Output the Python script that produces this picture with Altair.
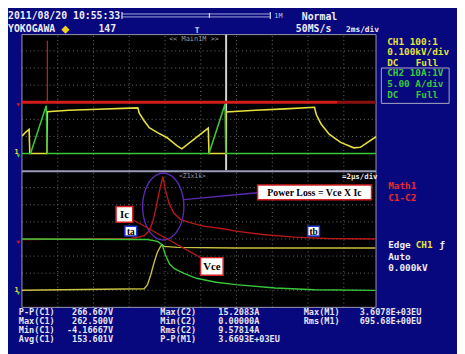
import altair as alt
import pandas as pd
import numpy as np

# ---------------- data ----------------
# Upper panel "Main 1M", 2 ms/div: time in divisions, level in divisions above the panel floor
main_ch1_t = [0.01, 0.10, 0.20, 0.22, 0.70, 0.71, 1.31, 2.14, 2.82, 3.24, 3.28, 3.42, 3.56, 3.79, 4.06,
              4.33, 4.47, 5.21, 5.23, 5.70, 5.71, 6.53, 7.36, 8.18, 8.23, 8.37, 8.59, 8.91, 9.28, 9.46, 9.90]
main_ch1_v = [2.03, 2.24, 2.41, 1.00, 1.00, 3.44, 3.53, 3.59, 3.64, 3.67, 3.36, 2.90, 2.51, 2.22, 1.92,
              1.46, 1.27, 2.48, 1.00, 1.00, 3.43, 3.53, 3.61, 3.70, 3.28, 2.71, 2.13, 1.65, 1.33, 1.36, 1.98]
main_ch2_t = [0.0, 0.24, 0.68, 0.71, 5.23, 5.68, 5.70, 9.9]
main_ch2_v = [1.0, 1.0, 3.8, 1.0, 1.0, 3.9, 1.0, 1.0]
main_math_t = [0.0, 8.81, 9.9]
main_math_v = [4.0, 4.0, 4.0]
main_spike_t = [0.71, 0.71]
main_spike_v = [4.0, 7.6]

# Lower panel "Z1x1k", 2 us/div
zoom_ch2_t = [0.0, 3.51, 3.79, 3.92, 4.01, 4.12, 4.25, 4.53, 4.88, 5.43, 5.98, 7.08, 8.18, 9.88]
zoom_ch2_v = [4.0, 3.97, 3.86, 3.66, 3.08, 2.56, 2.28, 1.99, 1.70, 1.47, 1.33, 1.13, 1.03, 0.99]
zoom_ch1_t = [0.0, 3.42, 3.51, 3.60, 3.70, 3.79, 3.88, 3.92, 3.98, 4.34, 5.98, 9.88]
zoom_ch1_v = [1.0, 1.09, 1.32, 1.89, 2.66, 3.24, 3.58, 3.66, 3.57, 3.51, 3.47, 3.47]
zoom_math_t = [0.0, 3.04, 3.24, 3.42, 3.56, 3.65, 3.74, 3.83, 3.94, 4.01, 4.11, 4.24, 4.43, 4.70,
               5.07, 5.62, 5.98, 6.72, 7.63, 8.54, 9.88]
zoom_math_v = [3.97, 4.03, 4.10, 4.19, 4.48, 4.96, 5.72, 6.68, 7.64, 6.87, 6.11, 5.53, 5.15, 4.96,
               4.75, 4.60, 4.46, 4.26, 4.11, 4.03, 4.0]

# texts
header_date = "2011/08/20 10:55:33"
header_brand = "YOKOGAWA"
header_count = "147"
header_mode = "Normal"
header_rate = "50MS/s"
header_tdiv = "2ms/div"
header_mem = "1M"
ch1_lines = ["CH1 100:1", "0.100kV/div"]
ch2_lines = ["CH2 10A:1V", "5.00 A/div"]
coupling = ["DC", "Full"]
math_lines = ["Math1", "C1-C2"]
trig_lines = ["Auto", "0.000kV"]
meas_c1_names = ["P-P(C1)", "Max(C1)", "Min(C1)", "Avg(C1)"]
meas_c1_vals = ["266.667V", "262.500V", "-4.16667V", "153.601V"]
meas_c2_names = ["Max(C2)", "Min(C2)", "Rms(C2)", "P-P(M1)"]
meas_c2_vals = ["15.2083A", "0.00000A", "9.57814A", "3.6693E+03EU"]
meas_m1_names = ["Max(M1)", "Rms(M1)"]
meas_m1_vals = ["3.6078E+03EU", "695.68E+00EU"]
note_labels = ["Ic", "ta", "Vce", "Power Loss = Vce X Ic", "tb"]

# ---------------- layout ----------------
W, H = 457, 346
PAGE = 8
X0, XS = 22.2, 36.4   # screen left edge (page px), px per horizontal division
Y0, YS = 309.6, 17.4  # screen bottom edge (page px), px per vertical division
UP = 8.0              # upper panel offset in divisions

def dx(px):
    return (px - X0) / XS

def dy(py):
    return (Y0 - py) / YS

xsc = alt.Scale(domain=[dx(PAGE), dx(PAGE + W)], nice=False, zero=False)
ysc = alt.Scale(domain=[dy(PAGE + H), dy(PAGE)], nice=False, zero=False)

BLUE = "#08087e"
YEL = "#e6e03c"
GRN = "#3ac83a"
RED = "#d41c1c"
DRED = "#8a1010"
WHITE = "#ececf4"
GRID = "#6e6e6e"
BORDER = "#9a9ab4"
PURP = "#5a2ab0"
MONO = "DejaVu Sans Mono"
SERIF = "Liberation Serif"


def X(f="x"):
    return alt.X(f + ":Q", scale=xsc, axis=None)


def Y(f="y"):
    return alt.Y(f + ":Q", scale=ysc, axis=None)


def lines(parts, color, width, **kw):
    frames = []
    for k, (t, v, off) in enumerate(parts):
        frames.append(pd.DataFrame({"x": t, "y": [a + off for a in v], "i": range(len(t)), "seg": k}))
    df = pd.concat(frames, ignore_index=True)
    return alt.Chart(df).mark_line(color=color, strokeWidth=width, **kw).encode(
        x=X(), y=Y(), detail="seg:N", order="i:Q")


def rules(rows, color, width, **kw):
    df = pd.DataFrame(rows, columns=["x", "y", "x2", "y2"])
    return alt.Chart(df).mark_rule(color=color, strokeWidth=width, **kw).encode(
        x=X(), y=Y(), x2="x2:Q", y2="y2:Q")


def rects(rows, **kw):
    df = pd.DataFrame(rows, columns=["x", "y", "x2", "y2"])
    return alt.Chart(df).mark_rect(**kw).encode(x=X(), y=Y(), x2="x2:Q", y2="y2:Q")


def texts(items, color, size, font=MONO, weight="bold", align="left", baseline="alphabetic"):
    df = pd.DataFrame([{"x": dx(a), "y": dy(b), "t": s} for s, a, b in items])
    return alt.Chart(df).mark_text(color=color, fontSize=size, font=font, fontWeight=weight,
                                   align=align, baseline=baseline).encode(x=X(), y=Y(), text="t:N")


layers = []
TOP = dy(32.0)
RIGHT = dx(382.6)

# screen
layers.append(rects([(0, 0, RIGHT, TOP)], color="#000000"))

# grid (dotted)
grid = []
for k in range(1, 10):
    grid.append((k, 0, k, UP))
    grid.append((k, UP, k, TOP))
for k in range(1, 8):
    grid.append((0, k, RIGHT, k))
    grid.append((0, UP + k, RIGHT, UP + k))
layers.append(rules(grid, GRID, 1, strokeDash=[1, 3]))

# borders
layers.append(rules([(0, 0, 0, TOP), (RIGHT, 0, RIGHT, TOP), (0, 0, RIGHT, 0), (0, TOP, RIGHT, TOP)], BORDER, 1))
layers.append(rules([(0, dy(171), RIGHT, dy(171))], BORDER, 2))
# zoom window marker in the main panel
layers.append(rules([(dx(230), dy(170), dx(230), TOP)], "#d4d4d4", 2))

# traces - upper panel
layers.append(lines([(main_ch1_t, main_ch1_v, UP)], YEL, 1.6))
layers.append(lines([(main_ch2_t, main_ch2_v, UP)], GRN, 1.6))
layers.append(lines([(main_math_t[:2], main_math_v[:2], UP)], RED, 3.2))
layers.append(lines([(main_math_t[1:], main_math_v[1:], UP)], DRED, 3.2))
layers.append(lines([(main_spike_t, main_spike_v, UP)], RED, 1.2))

# traces - lower panel
layers.append(lines([(zoom_math_t, zoom_math_v, 0)], "#b81818", 1.4))
layers.append(lines([(zoom_ch1_t, zoom_ch1_v, 0)], "#c8c040", 1.4))
layers.append(lines([(zoom_ch2_t, zoom_ch2_v, 0)], GRN, 1.4))

# channel ground markers on the left edge
mk = pd.DataFrame({"x": [dx(18.6), dx(18.6), dx(18.6), dx(18.6)],
                   "y": [dy(103.5), dy(155.5), dy(243.5), dy(295.5)],
                   "c": [RED, GRN, RED, GRN]})
layers.append(alt.Chart(mk).mark_point(shape="triangle-down", filled=True, size=14, opacity=1).encode(
    x=X(), y=Y(), color=alt.Color("c:N", scale=None)))
layers.append(texts([("1", 14.5, 153.5), ("1", 14.5, 293.5)], YEL, 7))

# annotations: ellipse around the loss peak
th = np.linspace(0, 2 * np.pi, 73)
ell = pd.DataFrame({"x": dx(166) + (21 / XS) * np.cos(th), "y": dy(207) + (34 / YS) * np.sin(th),
                    "i": range(len(th))})
layers.append(alt.Chart(ell).mark_line(color=PURP, strokeWidth=1.4).encode(x=X(), y=Y(), order="i:Q"))
layers.append(rules([(dx(187), dy(200), dx(262), dy(193))], PURP, 1.4))
layers.append(rules([(dx(136), dy(221), dx(204), dy(259))], "#b01c1c", 1.2))

# annotation boxes
box_pos = [(118, 207, 135, 223), (127, 227, 139, 237), (204, 259, 227, 277), (262, 185, 378, 200), (313, 227, 325, 237)]
box_col = ["#d42020", "#2038d0", "#d42020", "#d42020", "#2038d0"]
bdf = pd.DataFrame([{"x": dx(a), "y": dy(b), "x2": dx(c), "y2": dy(d), "c": col,
                     "cx": dx((a + c) / 2), "cy": dy((b + d) / 2 + 0.5), "t": lab}
                    for (a, b, c, d), col, lab in zip(box_pos, box_col, note_labels)])
layers.append(alt.Chart(bdf).mark_rect(fill="white", strokeWidth=1.5).encode(
    x=X(), y=Y(), x2="x2:Q", y2="y2:Q", stroke=alt.Stroke("c:N", scale=None)))
bdf["fs"] = [11, 9.5, 11, 10, 9.5]
layers.append(alt.Chart(bdf).mark_text(font=SERIF, fontWeight="bold", color="black", baseline="middle").encode(
    x=X("cx"), y=Y("cy"), text="t:N", size=alt.Size("fs:Q", scale=None)))

# ---------------- UI texts ----------------
layers.append(texts([(header_date, 8, 16.5), (header_brand, 8, 29.5), (header_count, 100, 29.5),
                     (header_mode, 307, 17), (header_rate, 301, 29.5)], WHITE, 10))
layers.append(texts([(header_tdiv, 352, 29.5)], WHITE, 8))
layers.append(texts([(header_mem, 279, 15)], "#c0c4e8", 7, weight="normal"))
# time-base bar
layers.append(rules([(dx(124), dy(11), dx(275), dy(11)), (dx(124), dy(14), dx(275), dy(14))], "#a4aad8", 1))
layers.append(rules([(dx(124), dy(9), dx(124), dy(16)), (dx(275), dy(9), dx(275), dy(16)),
                     (dx(213), dy(10), dx(213), dy(15))], "#c8ccf0", 1.3))
# yellow diamond, trigger-position marker
dm = pd.DataFrame({"x": [dx(66.5)], "y": [dy(27)]})
layers.append(alt.Chart(dm).mark_point(shape="diamond", filled=True, size=70, color="#f4d020", opacity=1).encode(
    x=X(), y=Y()))
layers.append(texts([("T", 198, 30)], "#d0d0e0", 8))

# right column
layers.append(texts([(ch1_lines[0], 394, 42.5), (ch1_lines[1], 394, 53), (coupling[0], 394, 63.5),
                     (coupling[1], 423, 63.5)], YEL, 9.5))
layers.append(rects([(dx(388), dy(66), dx(457), dy(102))], filled=False, stroke="#a8a8c8", strokeWidth=1))
layers.append(texts([(ch2_lines[0], 394, 74.5), (ch2_lines[1], 394, 85.5), (coupling[0], 394, 97),
                     (coupling[1], 423, 97)], GRN, 9.5))
layers.append(texts([(math_lines[0], 395, 189.5), (math_lines[1], 395, 201.5)], "#e82828", 9.5))
layers.append(texts([("Edge", 395, 249.5), ("ƒ", 447, 249.5), (trig_lines[0], 395, 261),
                     (trig_lines[1], 395, 272.5)], WHITE, 9.5))
layers.append(texts([("CH1", 423, 249.5)], YEL, 9.5))

# screen captions
layers.append(texts([("<< Main1M >>", 172, 39)], "#9a9aa8", 7, weight="normal"))
layers.append(texts([("<Z1x1k>", 182, 178)], "#9a9aa8", 6.5, weight="normal"))
layers.append(texts([("=2μs/div", 348, 178.5)], WHITE, 7.5))

# measurements
rows_y = [317.5, 326.5, 335.5, 344.5]
meas = []
for n, y in zip(meas_c1_names, rows_y):
    meas.append((n, 19, y))
for n, y in zip(meas_c2_names, rows_y):
    meas.append((n, 163, y))
for n, y in zip(meas_m1_names, rows_y):
    meas.append((n, 309, y))
for n, y in zip(meas_c2_vals, rows_y):
    meas.append((n, 222, y))
for n, y in zip(meas_m1_vals, rows_y):
    meas.append((n, 366, y))
layers.append(texts(meas, "#e4e4f0", 8.7))
layers.append(texts([(v, 115, y) for v, y in zip(meas_c1_vals, rows_y)], "#e4e4f0", 8.7, align="right"))

chart = alt.layer(*layers).properties(
    width=W, height=H, padding=0, autosize=alt.AutoSizeParams(type="none"), background=BLUE
).configure_view(strokeWidth=0)

chart.save("out.html", embed_options={"renderer": "svg", "actions": False})
